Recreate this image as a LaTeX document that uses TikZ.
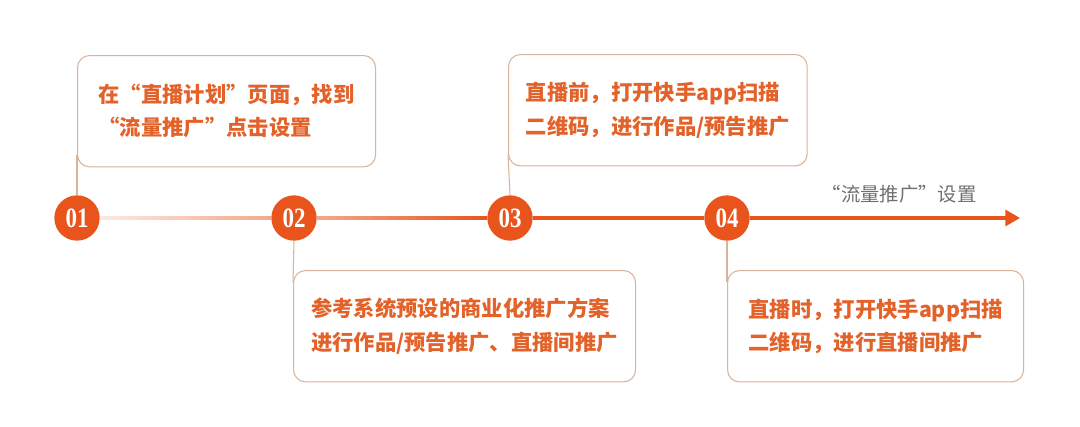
\documentclass[tikz,border=0pt]{standalone}
\usepackage{fontspec}
\setmainfont{Noto Sans CJK SC}
\newfontfamily\numfont{Liberation Serif}[FakeStretch=0.82]
\usetikzlibrary{arrows.meta,calc}
\definecolor{orng}{HTML}{E8541C}
\definecolor{txtorng}{HTML}{E2622A}
\definecolor{boxline}{HTML}{D9B49C}
\definecolor{pale}{HTML}{FCEAE3}
\definecolor{midc}{HTML}{F3A88A}
\definecolor{lbl}{HTML}{707070}
\begin{document}
\begin{tikzpicture}[x=0.75pt,y=-0.75pt,
  stepnum/.style={circle,fill=orng,minimum size=34pt,inner sep=0pt,text=white,
    font=\numfont\bfseries\fontsize{21}{21}\selectfont},
  infobox/.style={draw=boxline,line width=0.8pt,rounded corners=9pt,
    minimum height=83.5pt,text=txtorng,align=left,inner xsep=12pt,anchor=north west,
    font=\bfseries\fontsize{16}{25}\selectfont},
  stem/.style={draw=boxline,line width=0.8pt},
  tline/.style={line width=2.4pt,draw=orng}
]
\useasboundingbox[fill=white] (0,0) rectangle (1080,426);

% step circles
\node[stepnum] (c1) at (77,218) {01};
\node[stepnum] (c2) at (294,218) {02};
\node[stepnum] (c3) at (510,218) {03};
\node[stepnum] (c4) at (727,218) {04};
\coordinate (tip) at (1020,218);

% boxes
\node[infobox,minimum width=223.5pt] (b1) at (77,55)
  {在“直播计划”页面，找到\\“流量推广”点击设置};
\node[infobox,minimum width=224pt] (b3) at (508,54)
  {直播前，打开快手app扫描\\二维码，进行作品/预告推广};
\node[infobox,minimum width=256.5pt] (b2) at (293,270)
  {参考系统预设的商业化推广方案\\进行作品/预告推广、直播间推广};
\node[infobox,minimum width=222pt] (b4) at (727,270)
  {直播时，打开快手app扫描\\二维码，进行直播间推广};

% stems
\draw[stem] ($(b1.south west)+(0,-12)$) -- (c1.north);
\draw[stem] ($(b3.south west)+(0,-12)$) -- (c3.north);
\draw[stem] (c2.south) -- ($(b2.north west)+(0,12)$);
\draw[stem] (c4.south) -- ($(b4.north west)+(0,12)$);

% timeline
\fill[left color=pale,right color=midc] ($(c1.east)+(0,-1.6)$) rectangle ($(c2.west)+(0,1.6)$);
\fill[left color=midc,right color=orng] ($(c2.east)+(0,-1.6)$) rectangle ($(c3.west)+(0,1.6)$);
\draw[tline] (c3.east) -- (c4.west);
\draw[tline,-{Triangle[length=11pt,width=12pt]}] (c4.east) -- (tip);

% label
\node[text=lbl,font=\fontsize{14.5}{15}\selectfont] (lab) at (899,194) {“流量推广”设置};
\end{tikzpicture}
\end{document}
